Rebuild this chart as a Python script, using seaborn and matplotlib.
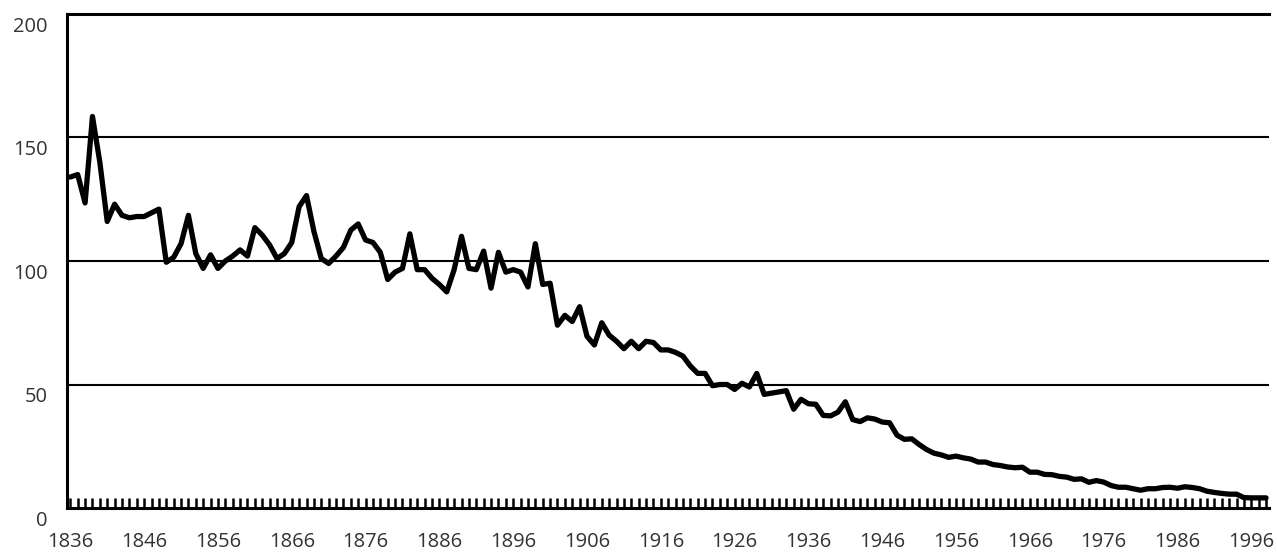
import numpy as np
import pandas as pd
import matplotlib
matplotlib.use("Agg")
import matplotlib.pyplot as plt
import matplotlib.transforms as mtransforms
import seaborn as sns

# Yearly series, 1836-1998
first_year = 1836
values = [
    134, 135, 123.5, 158.5, 140, 116, 123, 118.5, 117.5, 118,          # 1836-1845
    118, 119.5, 121, 99.5, 101.5, 107, 118.5, 103, 97, 102.5,          # 1846-1855
    97, 100, 102, 104.5, 102, 113.5, 110.5, 106.5, 101, 103,           # 1856-1865
    107.5, 122, 126.5, 112, 101, 99, 102, 105.5, 112.5, 115,           # 1866-1875
    108.5, 107.5, 103.5, 92.5, 95.5, 97, 111, 96.5, 96.5, 93,          # 1876-1885
    90.5, 87.5, 96.5, 110, 97, 96.5, 104, 89, 103.5, 95.5,             # 1886-1895
    96.5, 95.5, 89.5, 107, 90.5, 91, 74, 78, 75.5, 81.5,               # 1896-1905
    69.5, 66, 75, 70, 67.5, 64.5, 67.5, 64.5, 67.5, 67,                # 1906-1915
    64, 64, 63, 61.5, 57.5, 54.5, 54.5, 49.5, 50, 50,                  # 1916-1925
    48, 50.5, 49, 54.5, 46, 46.5, 47, 47.5, 40, 44,                    # 1926-1935
    42.2, 42, 37.5, 37.3, 38.8, 43, 35.8, 35, 36.5, 36,                # 1936-1945
    34.8, 34.5, 29.5, 27.8, 28, 25.7, 23.7, 22.2, 21.5, 20.5,          # 1946-1955
    21, 20.3, 19.8, 18.6, 18.6, 17.6, 17.2, 16.6, 16.3, 16.5,          # 1956-1965
    14.5, 14.5, 13.6, 13.5, 12.8, 12.5, 11.6, 11.8, 10.4, 11.1,        # 1966-1975
    10.5, 9.1, 8.4, 8.4, 7.8, 7.2, 7.8, 7.8, 8.3, 8.4,                 # 1976-1985
    8, 8.6, 8.3, 7.8, 6.8, 6.3, 5.9, 5.6, 5.6, 4.2,                    # 1986-1995
    4.1, 4.1, 4.1,                                                     # 1996-1998
]
years = list(range(first_year, first_year + len(values)))

y_ticks = [0, 50, 100, 150, 200]
x_label_years = list(range(1836, 1997, 10))

df = pd.DataFrame({"year": years, "value": values})

sns.set_style("white")
plt.rcParams["font.family"] = ["Open Sans", "DejaVu Sans"]

fig = plt.figure(figsize=(12.77, 5.54), dpi=100)
ax = fig.add_axes([67 / 1277, 1 - 508 / 554, (1269 - 67) / 1277, (508 - 14) / 554])

# horizontal grid lines
for yv in y_ticks[1:-1]:
    ax.axhline(yv, color="black", lw=1.5, zorder=1)

sns.lineplot(data=df, x="year", y="value", color="black", lw=3.8, ax=ax, zorder=3)

ax.set_xlim(years[0] - 0.45, years[-1] + 0.4)
ax.set_ylim(0, 200)
ax.set_xlabel("")
ax.set_ylabel("")

for side in ["left", "top", "bottom"]:
    ax.spines[side].set_visible(True)
    ax.spines[side].set_color("black")
    ax.spines[side].set_linewidth(2.2)
ax.spines["right"].set_visible(False)

ax.set_xticks(x_label_years)
ax.set_xticklabels([str(y) for y in x_label_years])
ax.set_xticks(years, minor=True)
ax.tick_params(axis="x", which="both", direction="in", length=7.5, width=1.8,
               color="black", bottom=True)
ax.tick_params(axis="x", which="major", pad=17.5, labelsize=14.5, labelcolor="#333333")

ax.set_yticks(y_ticks)
ax.set_yticklabels([str(v) for v in y_ticks])
ax.tick_params(axis="y", length=0, pad=14, labelsize=14.5, labelcolor="#333333")

# y labels sit a little below their grid lines
offset = mtransforms.ScaledTranslation(0, -7.5 / 72, fig.dpi_scale_trans)
for lab in ax.get_yticklabels():
    lab.set_transform(lab.get_transform() + offset)

fig.savefig("out.png", dpi=100)
